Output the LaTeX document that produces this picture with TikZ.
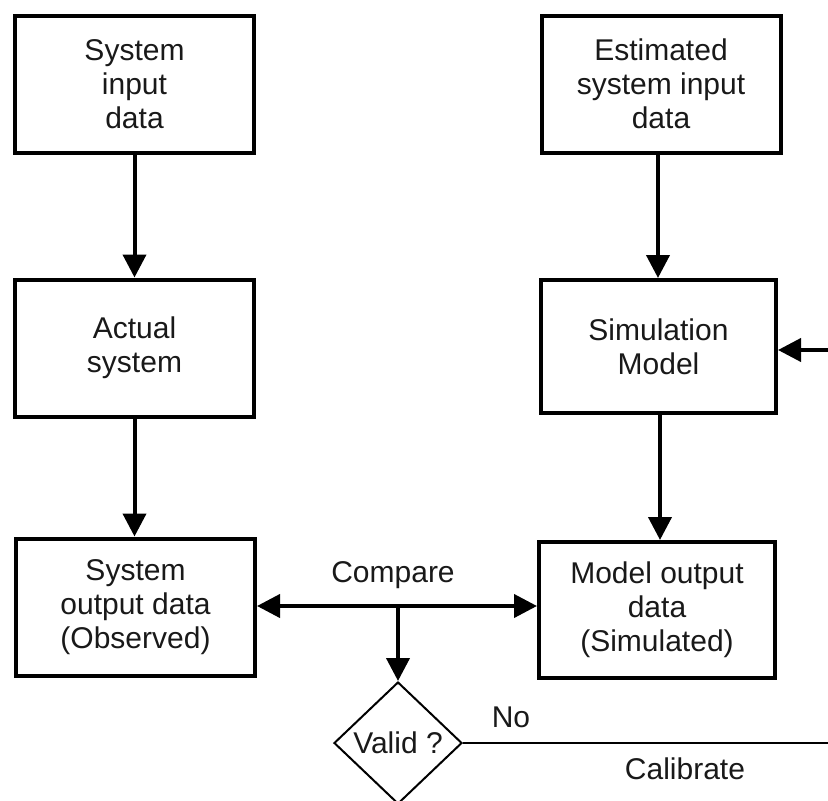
\documentclass[tikz,border=0pt]{standalone}
\usepackage{fontspec}
\setmainfont{Liberation Sans}
\usetikzlibrary{shapes.geometric,arrows.meta,calc}
\begin{document}
\begin{tikzpicture}[x=1pt,y=-1pt,
  box/.style={draw=black,line width=4pt,rectangle,minimum width=239pt,minimum height=137pt,
    align=center,inner sep=0pt,font=\fontsize{30}{34}\selectfont,text=black!90},
  lbl/.style={font=\fontsize{30}{34}\selectfont,text=black!90,inner sep=0pt},
  thickarrow/.style={line width=4pt,-{Triangle[length=23pt,width=23pt]}},
  thinline/.style={line width=2pt}]
\useasboundingbox (0,0) rectangle (828,801);
\clip (0,0) rectangle (828,801);
\node[box] (A) at (134.5,84) {System\\input\\data};
\node[box] (B) at (134.5,348) {Actual\\system};
\node[box] (C) at (135.5,607) {System\\output data\\(Observed)};
\node[box] (D) at (661,84) {Estimated\\system input\\data};
\node[box,minimum width=235pt,minimum height=133pt] (E) at (658.5,346.5) {Simulation\\Model};
\node[box,minimum width=236pt,minimum height=136pt] (F) at (657,610) {Model output\\data\\(Simulated)};
\node[diamond,draw=black,line width=2pt,minimum width=128pt,minimum height=122pt,inner sep=0pt,
  font=\fontsize{30}{34}\selectfont,text=black!90] (V) at (398,743) {Valid ?};
\coordinate (J) at (398,606);
\coordinate (R1) at (830,743);
\coordinate (R2) at (830,350);
\draw[thickarrow] (A) -- (B);
\draw[thickarrow] (B.south) -- (C.north -| B.south);
\draw[thickarrow] (D.south -| 658,0) -- (E.north -| 658,0);
\draw[thickarrow] (E.south -| 660,0) -- (F.north -| 660,0);
\draw[line width=4pt,{Triangle[length=23pt,width=23pt]}-{Triangle[length=23pt,width=23pt]}]
  (C.east |- J) -- (F.west |- J);
\draw[thickarrow] (J) -- (V.north);
\draw[thinline] (V.east) -- (R1);
\draw[thickarrow] (R2) -- (E.east |- R2);
\node[lbl] (cmp) at (393,575) {Compare};
\node[lbl] (no) at (511,717) {No};
\node[lbl] (cal) at (685,769) {Calibrate};
\end{tikzpicture}
\end{document}
